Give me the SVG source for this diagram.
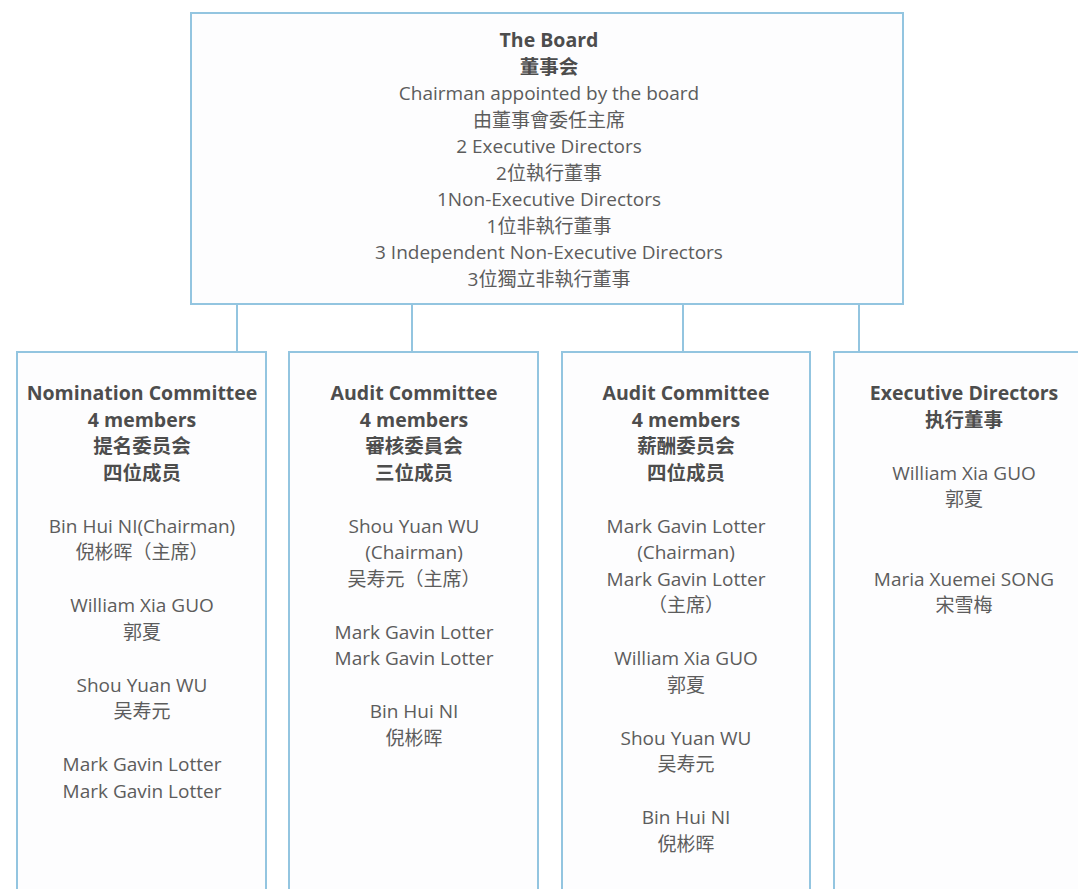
<svg xmlns="http://www.w3.org/2000/svg" width="1078" height="889" viewBox="0 0 1078 889">
<style>
.box{fill:#fdfdfe;stroke:#93c5e0;stroke-width:2}
.con{stroke:#93c5e0;stroke-width:2;fill:none}
text{font-family:"Open Sans","Noto Sans CJK SC",sans-serif;font-size:19px;fill:#5c5c5c;text-anchor:middle}
.b{font-weight:bold;font-size:19.5px;fill:#4d4d4d}
</style>
<rect width="1078" height="889" fill="#ffffff"/>
<g id="connectors">
<line class="con" x1="237" y1="304" x2="237" y2="352"/>
<line class="con" x1="412" y1="304" x2="412" y2="352"/>
<line class="con" x1="683" y1="304" x2="683" y2="352"/>
<line class="con" x1="859" y1="304" x2="859" y2="352"/>
</g>
<g id="board">
<rect class="box" x="191" y="13" width="712" height="291"/>
<text x="549" y="47" class="b">The Board</text>
<text x="549" y="73.5" class="b">董事会</text>
<text x="549" y="100">Chairman appointed by the board</text>
<text x="549" y="126.5">由董事會委任主席</text>
<text x="549" y="153">2 Executive Directors</text>
<text x="549" y="179.5">2位執行董事</text>
<text x="549" y="206">1Non-Executive Directors</text>
<text x="549" y="232.5">1位非執行董事</text>
<text x="549" y="259">3 Independent Non-Executive Directors</text>
<text x="549" y="285.5">3位獨立非執行董事</text>
</g>
<g id="nomination">
<rect class="box" x="17" y="352" width="249" height="545"/>
<text x="142" y="400" class="b">Nomination Committee</text>
<text x="142" y="426.5" class="b">4 members</text>
<text x="142" y="453" class="b">提名委员会</text>
<text x="142" y="479.5" class="b">四位成员</text>
<text x="142" y="532.5">Bin Hui NI(Chairman)</text>
<text x="142" y="559">倪彬晖（主席）</text>
<text x="142" y="612">William Xia GUO</text>
<text x="142" y="638.5">郭夏</text>
<text x="142" y="691.5">Shou Yuan WU</text>
<text x="142" y="718">吴寿元</text>
<text x="142" y="771">Mark Gavin Lotter</text>
<text x="142" y="797.5">Mark Gavin Lotter</text>
</g>
<g id="audit">
<rect class="box" x="289" y="352" width="249" height="545"/>
<text x="414" y="400" class="b">Audit Committee</text>
<text x="414" y="426.5" class="b">4 members</text>
<text x="414" y="453" class="b">審核委員会</text>
<text x="414" y="479.5" class="b">三位成员</text>
<text x="414" y="532.5">Shou Yuan WU</text>
<text x="414" y="559">(Chairman)</text>
<text x="414" y="585.5">吴寿元（主席）</text>
<text x="414" y="638.5">Mark Gavin Lotter</text>
<text x="414" y="665">Mark Gavin Lotter</text>
<text x="414" y="718">Bin Hui NI</text>
<text x="414" y="744.5">倪彬晖</text>
</g>
<g id="remuneration">
<rect class="box" x="562" y="352" width="248" height="545"/>
<text x="686" y="400" class="b">Audit Committee</text>
<text x="686" y="426.5" class="b">4 members</text>
<text x="686" y="453" class="b">薪酬委员会</text>
<text x="686" y="479.5" class="b">四位成员</text>
<text x="686" y="532.5">Mark Gavin Lotter</text>
<text x="686" y="559">(Chairman)</text>
<text x="686" y="585.5">Mark Gavin Lotter</text>
<text x="686" y="612">（主席）</text>
<text x="686" y="665">William Xia GUO</text>
<text x="686" y="691.5">郭夏</text>
<text x="686" y="744.5">Shou Yuan WU</text>
<text x="686" y="771">吴寿元</text>
<text x="686" y="824">Bin Hui NI</text>
<text x="686" y="850.5">倪彬晖</text>
</g>
<g id="executive">
<rect class="box" x="834" y="352" width="260" height="545"/>
<text x="964" y="400" class="b">Executive Directors</text>
<text x="964" y="426.5" class="b">执行董事</text>
<text x="964" y="479.5">William Xia GUO</text>
<text x="964" y="506">郭夏</text>
<text x="964" y="585.5">Maria Xuemei SONG</text>
<text x="964" y="612">宋雪梅</text>
</g>
</svg>
